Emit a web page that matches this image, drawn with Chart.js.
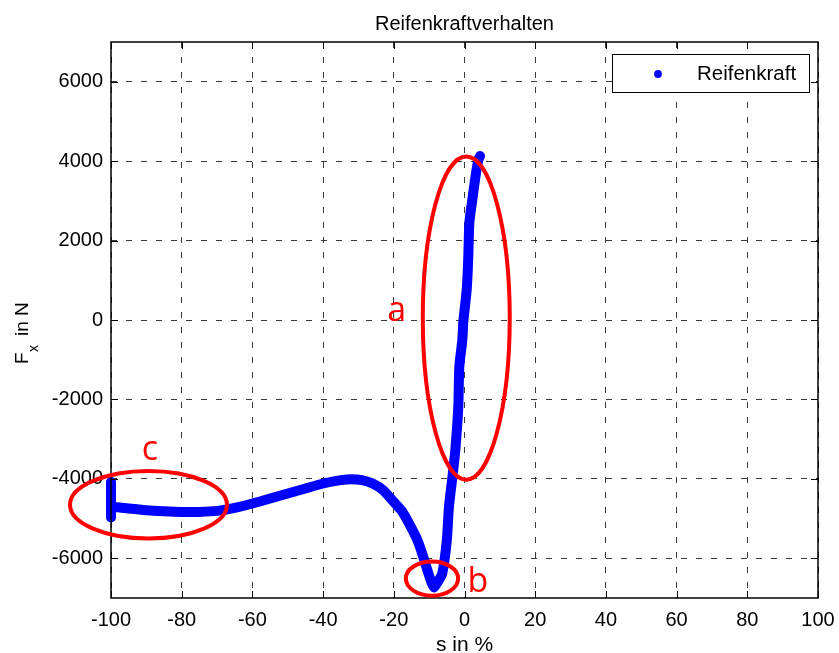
<!DOCTYPE html>
<html>
<head>
<meta charset="utf-8">
<script src="https://cdn.jsdelivr.net/npm/chart.js@4.4.0/dist/chart.umd.min.js"></script>
<style>
  html, body { margin: 0; padding: 0; background: #fff; }
  #wrap { width: 839px; height: 653px; position: relative; }
</style>
</head>
<body>
<div id="wrap"><canvas id="c" width="839" height="653"></canvas></div>
<script>
// ---- data ----
const slip = [-100, -100, -100, -99, -95, -90, -85, -80, -75, -70, -65, -60, -55, -50, -45, -40, -35, -32, -29, -26, -23, -20, -17.8, -15.4, -13.3, -11.9, -10.2, -9.3, -8.6, -7.6, -6.3, -5.0, -4.4, -3.3, -2.6, -1.75, -1.47, -0.62, -0.33, 0.62, 1.08, 1.36, 2.2, 2.97, 3.9, 4.4];
const force = [-4080, -4970, -4700, -4706, -4747, -4790, -4815, -4832, -4832, -4807, -4731, -4621, -4495, -4369, -4243, -4117, -4033, -4008, -4033, -4117, -4285, -4580, -4800, -5170, -5546, -5900, -6385, -6620, -6735, -6600, -6385, -5546, -4706, -3866, -3277, -2185, -1177, -504, -42, 756, 1596, 2437, 3025, 3529, 4033, 4130];
const xTicks = [-100, -80, -60, -40, -20, 0, 20, 40, 60, 80, 100];
const yTicks = [-6000, -4000, -2000, 0, 2000, 4000, 6000];
const seriesName = 'Reifenkraft';
const chartTitle = 'Reifenkraftverhalten';
const xLabel = 's in %';
// annotation ellipses (data coordinates): centre s, centre F, radius s, radius F
const ellLabels = ['a', 'b', 'c'];
const ellCx = [0.5, -9.2, -89.4];
const ellCy = [50, -6511, -4654];
const ellRx = [12.3, 7.4, 22.2];
const ellRy = [4070, 430, 850];
const lblX = [-19.2, 3.8, -89.0];
const lblY = [-30, -6850, -3520];

const FONT = '"Liberation Sans", Arial, sans-serif';

const decor = {
  id: 'decor',
  afterDraw(chart) {
    const ctx = chart.ctx;
    const a = chart.chartArea;
    const xs = chart.scales.x, ys = chart.scales.y;
    ctx.save();
    // frame
    ctx.strokeStyle = '#000';
    ctx.lineWidth = 1.5;
    ctx.strokeRect(a.left, a.top, a.right - a.left, a.bottom - a.top);
    // inside tick marks on all four sides
    ctx.lineWidth = 1;
    const tl = 7;
    ctx.beginPath();
    xTicks.forEach(v => {
      const px = Math.round(xs.getPixelForValue(v)) + 0.5;
      ctx.moveTo(px, a.bottom); ctx.lineTo(px, a.bottom - tl);
      ctx.moveTo(px, a.top); ctx.lineTo(px, a.top + tl);
    });
    yTicks.forEach(v => {
      const py = Math.round(ys.getPixelForValue(v)) + 0.5;
      ctx.moveTo(a.left, py); ctx.lineTo(a.left + tl, py);
      ctx.moveTo(a.right, py); ctx.lineTo(a.right - tl, py);
    });
    ctx.stroke();

    // legend
    const lx0 = a.right - 206, ly0 = a.top + 12, lw = 197, lh = 38;
    ctx.fillStyle = '#fff';
    ctx.fillRect(lx0, ly0, lw, lh);
    ctx.strokeStyle = '#000';
    ctx.lineWidth = 1;
    ctx.strokeRect(lx0 + 0.5, ly0 + 0.5, lw, lh);
    ctx.fillStyle = '#0000ff';
    ctx.beginPath();
    ctx.arc(lx0 + 46, ly0 + 20, 3.9, 0, Math.PI * 2);
    ctx.fill();
    ctx.fillStyle = '#000';
    ctx.font = '20.5px ' + FONT;
    ctx.textAlign = 'left';
    ctx.textBaseline = 'middle';
    ctx.fillText(seriesName, lx0 + 85, ly0 + 20);

    // title
    ctx.font = '20px ' + FONT;
    ctx.textAlign = 'center';
    ctx.textBaseline = 'alphabetic';
    ctx.fillText(chartTitle, (a.left + a.right) / 2, 30);
    // x label
    ctx.font = '21px ' + FONT;
    ctx.fillText(xLabel, (a.left + a.right) / 2, 651);
    // y label with subscript
    ctx.save();
    ctx.translate(28, 364);
    ctx.rotate(-Math.PI / 2);
    ctx.textAlign = 'left';
    ctx.font = '19px ' + FONT;
    ctx.fillText('F', 0, 0);
    ctx.font = '14px ' + FONT;
    ctx.fillText('x', 12, 10);
    ctx.font = '19px ' + FONT;
    ctx.fillText('in N', 28, 0);
    ctx.restore();

    // red annotation ellipses and letters
    ctx.strokeStyle = '#ff0000';
    ctx.lineWidth = 4;
    for (let i = 0; i < ellLabels.length; i++) {
      const cx = xs.getPixelForValue(ellCx[i]);
      const cy = ys.getPixelForValue(ellCy[i]);
      const rx = Math.abs(xs.getPixelForValue(ellCx[i] + ellRx[i]) - cx);
      const ry = Math.abs(ys.getPixelForValue(ellCy[i] + ellRy[i]) - cy);
      ctx.beginPath();
      ctx.ellipse(cx, cy, rx, ry, 0, 0, Math.PI * 2);
      ctx.stroke();
    }
    ctx.fillStyle = '#ff0000';
    ctx.font = '34px "Open Sans", sans-serif';
    ctx.textAlign = 'center';
    ctx.textBaseline = 'alphabetic';
    for (let i = 0; i < ellLabels.length; i++) {
      ctx.fillText(ellLabels[i], xs.getPixelForValue(lblX[i]), ys.getPixelForValue(lblY[i]));
    }
    ctx.restore();
  }
};

const points = slip.map((s, i) => ({ x: s, y: force[i] }));

new Chart(document.getElementById('c'), {
  type: 'scatter',
  data: {
    datasets: [{
      label: seriesName,
      data: points,
      showLine: true,
      borderColor: '#0000ff',
      backgroundColor: '#0000ff',
      borderWidth: 10,
      borderCapStyle: 'round',
      borderJoinStyle: 'round',
      pointRadius: 0,
      pointHoverRadius: 0,
      tension: 0.2,
      clip: false
    }]
  },
  options: {
    responsive: false,
    animation: false,
    events: [],
    layout: { padding: { top: 42, right: 21, left: 0, bottom: 0 } },
    plugins: { legend: { display: false }, title: { display: false }, tooltip: { enabled: false } },
    scales: {
      x: {
        type: 'linear', position: 'bottom', min: -100, max: 100,
        afterBuildTicks: s => { s.ticks = xTicks.map(v => ({ value: v })); },
        afterFit: s => { s.height = 55; s.paddingLeft = 0; s.paddingRight = 0; },
        grid: { color: '#3a3a3a', lineWidth: 1, drawTicks: false },
        border: { display: false, dash: [6, 9] },
        ticks: { color: '#000', font: { family: FONT, size: 20 }, padding: 10, maxRotation: 0, autoSkip: false, callback: v => String(v) }
      },
      y: {
        type: 'linear', position: 'left', min: -7000, max: 7000,
        afterBuildTicks: s => { s.ticks = yTicks.map(v => ({ value: v })); },
        afterFit: s => { s.width = 111; s.paddingTop = 0; s.paddingBottom = 0; },
        grid: { color: '#3a3a3a', lineWidth: 1, drawTicks: false },
        border: { display: false, dash: [6, 9] },
        ticks: { color: '#000', font: { family: FONT, size: 20 }, padding: 8, autoSkip: false, callback: v => String(v) }
      }
    }
  },
  plugins: [decor]
});
</script>
</body>
</html>
